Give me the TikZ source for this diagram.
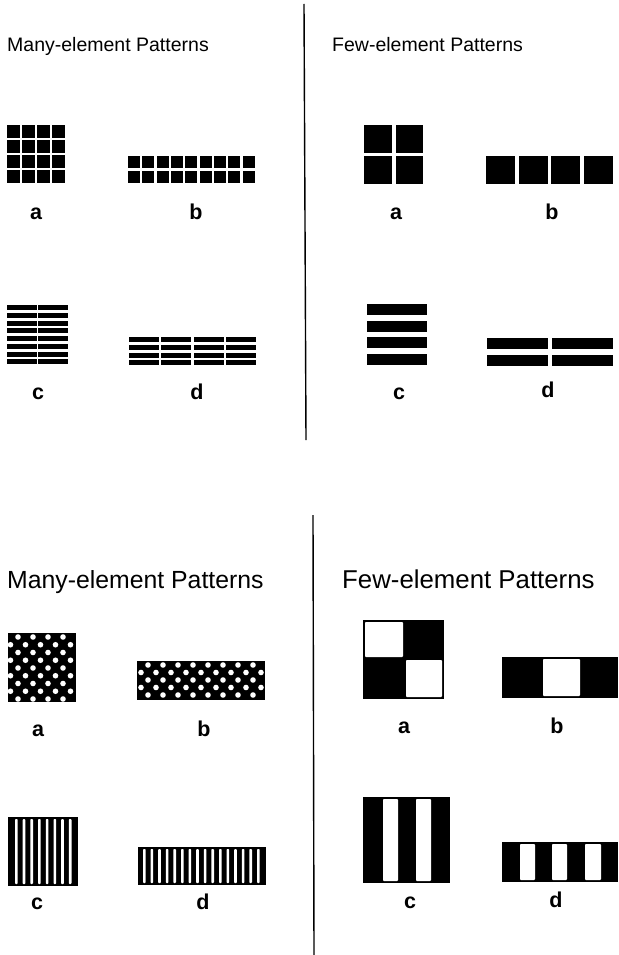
\documentclass[tikz,border=0pt]{standalone}
\usepackage{fontspec}
\setmainfont{Liberation Sans}
\begin{document}
\begin{tikzpicture}[x=1pt,y=-1pt,
  lab/.style={font=\bfseries\fontsize{21.5}{21.5}\selectfont, inner sep=0pt, anchor=base},
  headA/.style={font=\fontsize{19.5}{19.5}\selectfont, inner sep=0pt, anchor=base west},
  headB/.style={font=\fontsize{24.8}{24.8}\selectfont, inner sep=0pt, anchor=base west},
  headC/.style={font=\fontsize{25.8}{25.8}\selectfont, inner sep=0pt, anchor=base west},
  divider/.style={line width=1.4pt, black},
  ink/.style={fill=black},
  hole/.style={fill=white, rounded corners=0.8pt}]
\useasboundingbox (0,0) rectangle (618,955);
\fill[white] (0,0) rectangle (618,955);

% ---------- dividers
\coordinate (d1t) at (304,4);
\coordinate (d1b) at (306,440);
\coordinate (d2t) at (313,515);
\coordinate (d2b) at (314,955);
\draw[divider] (d1t) -- (d1b);
\draw[divider] (d2t) -- (d2b);

% ---------- headings
\node[headA] (h1) at (7,52) {Many-element Patterns};
\node[headA] (h2) at (332,52) {Few-element Patterns};
\node[headB] (h3) at (7,588) {Many-element Patterns};
\node[headC] (h4) at (342,588) {Few-element Patterns};

% ========== TOP LEFT
% a: 4x4 squares
\foreach \i in {0,...,3}{\foreach \j in {0,...,3}{
  \fill[ink] ({7+15*\i},{125+15*\j}) rectangle ++(12.5,12.5);}}
% b: 9x2 squares
\foreach \i in {0,...,8}{\foreach \j in {0,1}{
  \fill[ink] ({128+14.33*\i},{156+14.5*\j}) rectangle ++(12,12);}}
% c: 2x8 bars
\foreach \i in {0,1}{\foreach \j in {0,...,7}{
  \fill[ink] ({7+31*\i},{305+7.75*\j}) rectangle ++(29.5,5);}}
% d: 4x4 bars
\foreach \i in {0,...,3}{\foreach \j in {0,...,3}{
  \fill[ink] ({129+32.25*\i},{337+7.75*\j}) rectangle ++(30,5);}}
\node[lab] (tla) at (36,219) {a};
\node[lab] (tlb) at (196,219) {b};
\node[lab] (tlc) at (38,399) {c};
\node[lab] (tld) at (197,399) {d};

% ========== TOP RIGHT
\foreach \i in {0,1}{\foreach \j in {0,1}{
  \fill[ink] ({364+31.5*\i},{125+31*\j}) rectangle ++(27.5,28);}}
\foreach \i in {0,...,3}{
  \fill[ink] ({486+32.5*\i},156) rectangle ++(29,28);}
\foreach \j in {0,...,3}{
  \fill[ink] (367,{304+16.7*\j}) rectangle ++(60,11);}
\foreach \i in {0,1}{\foreach \j in {0,1}{
  \fill[ink] ({487+65*\i},{338+17*\j}) rectangle ++(61,11);}}
\node[lab] (tra) at (396,219) {a};
\node[lab] (trb) at (552,219) {b};
\node[lab] (trc) at (399,399) {c};
\node[lab] (trd) at (548,397) {d};

% ========== BOTTOM LEFT
% a: dotted square
\fill[ink] (8,633) rectangle (76,702);
\begin{scope}
  \clip (8,633) rectangle (76,702);
  \foreach \k in {0,2,4,6,8}{\foreach \i in {0,...,3}{
    \fill[white] ({18+15*\i},{637+7.75*\k}) circle (2.8);}}
  \foreach \k in {1,3,5,7}{\foreach \i in {0,...,4}{
    \fill[white] ({10.5+15*\i},{637+7.75*\k}) circle (2.8);}}
\end{scope}
% b: dotted bar
\fill[ink] (137,661) rectangle (265,700);
\begin{scope}
  \clip (137,661) rectangle (265,700);
  \foreach \k in {0,2,4}{\foreach \i in {0,...,7}{
    \fill[white] ({148+15*\i},{665+7.5*\k}) circle (2.8);}}
  \foreach \k in {1,3}{\foreach \i in {0,...,8}{
    \fill[white] ({141+15*\i},{665+7.5*\k}) circle (2.8);}}
\end{scope}
% c: fine stripes square
\fill[ink] (8,817) rectangle (78,886);
\foreach \k in {0,...,7}{
  \fill[hole] ({15+7.7*\k},819) rectangle ++(2.6,65);}
% d: fine stripes bar
\fill[ink] (138,847) rectangle (266,885);
\foreach \k in {0,...,15}{
  \fill[hole] ({143+7.6*\k},849) rectangle ++(2.6,34);}
\node[lab] (bla) at (38,736) {a};
\node[lab] (blb) at (204,736) {b};
\node[lab] (blc) at (37,909) {c};
\node[lab] (bld) at (203,909) {d};

% ========== BOTTOM RIGHT
\fill[ink] (363,620) rectangle (444,699);
\fill[hole] (365,622) rectangle (403,657);
\fill[hole] (406,660) rectangle (442,697);
\fill[ink] (502,657) rectangle (618,698);
\fill[hole] (543,659) rectangle (580,696);
\fill[ink] (363,797) rectangle (450,883);
\fill[hole] (383,799) rectangle (398,881);
\fill[hole] (416,799) rectangle (431,881);
\fill[ink] (502,842) rectangle (618,882);
\fill[hole] (520,844) rectangle (535,880);
\fill[hole] (552,844) rectangle (567,880);
\fill[hole] (585,844) rectangle (601,880);
\node[lab] (bra) at (404,733) {a};
\node[lab] (brb) at (557,733) {b};
\node[lab] (brc) at (410,908) {c};
\node[lab] (brd) at (556,907) {d};
\end{tikzpicture}
\end{document}
